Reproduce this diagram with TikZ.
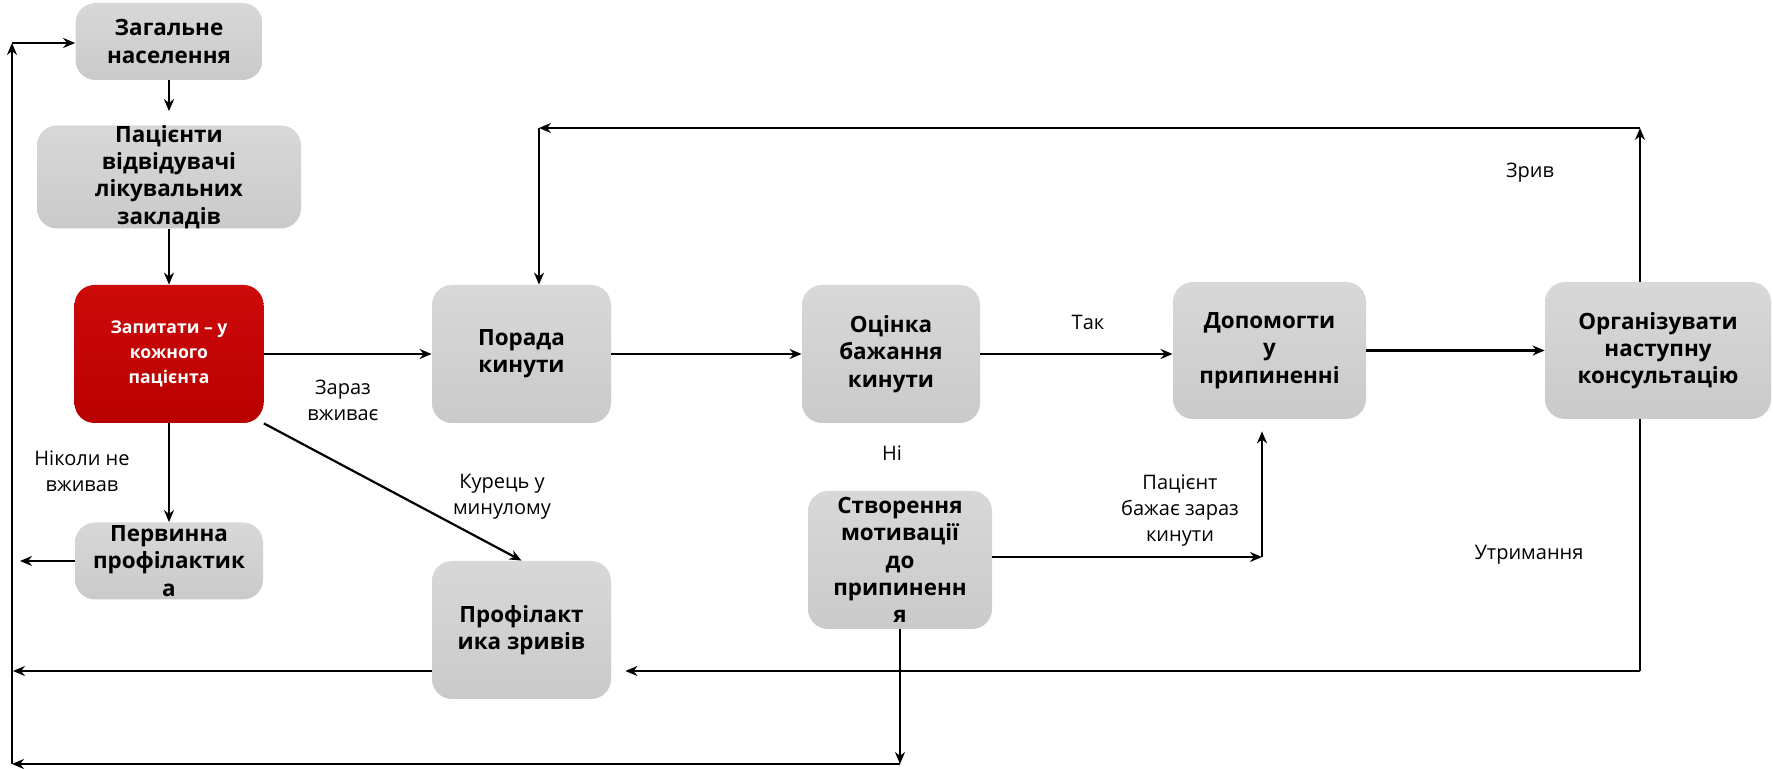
\documentclass[tikz,border=0pt]{standalone}
\usepackage{fontspec}
\setmainfont{Open Sans}
\usetikzlibrary{arrows.meta}
\definecolor{boxtop}{RGB}{216,216,216}
\definecolor{boxbot}{RGB}{202,202,202}
\definecolor{asktop}{RGB}{205,10,10}
\definecolor{askbot}{RGB}{185,0,0}

\begin{document}
\begin{tikzpicture}[x=0.5pt, y=-0.5pt,
    box/.style={rectangle, rounded corners=10pt, top color=boxtop, bottom color=boxbot, align=center, inner sep=0pt, font=\fontsize{11.2}{13.6}\selectfont\bfseries},
    redbox/.style={box, top color=asktop, bottom color=askbot, text=white, font=\fontsize{8.8}{12.5}\selectfont\bfseries},
    lbl/.style={align=center, inner sep=0pt, font=\fontsize{10}{13}\selectfont},
    arr/.style={line width=1.1pt, -{Stealth[length=6pt,width=5pt]}}]
    \useasboundingbox (0,0) rectangle (1773,769);

    \node[box, minimum width=93.5pt, minimum height=38.5pt] (gen) at (169,41.5) {Загальне\\населення};
    \node[box, minimum width=132pt, minimum height=49pt] (pat) at (169,177) {Пацієнти\\відвідувачі\\лікувальних\\закладів};
    \node[redbox, minimum width=94.5pt, minimum height=69pt] (ask) at (169,354) {Запитати – у\\кожного\\пацієнта};
    \node[box, minimum width=94pt, minimum height=38.5pt] (prim) at (169,561) {Первинна\\профілактик\\а};
    \node[box, minimum width=89.5pt, minimum height=69pt] (advice) at (521.5,354) {Порада\\кинути};
    \node[box, minimum width=89.5pt, minimum height=69pt] (relapse) at (521.5,630) {Профілакт\\ика зривів};
    \node[box, minimum width=89pt, minimum height=69pt] (assess) at (891,354) {Оцінка\\бажання\\кинути};
    \node[box, minimum width=92pt, minimum height=69pt] (motiv) at (900,560) {Створення\\мотивації\\до\\припиненн\\я};
    \node[box, minimum width=96.5pt, minimum height=68.5pt] (help) at (1269.5,350.5) {Допомогти\\у\\припиненні};
    \node[box, minimum width=113pt, minimum height=68.5pt] (follow) at (1658,350.5) {Організувати\\наступну\\консультацію};

    \coordinate (topL) at (12,43);
    \coordinate (botL) at (12,764);
    \coordinate (primL) at (20,561);
    \coordinate (relL) at (13,671);
    \coordinate (upR) at (1640,128);
    \coordinate (upL) at (539,128);
    \coordinate (retR) at (1640,671);
    \coordinate (motR) at (1262,557);

    \draw[arr, shorten >=7pt] (gen) -- (pat);
    \draw[arr] (pat) -- (ask);
    \draw[arr] (ask) -- (prim);
    \draw[arr] (ask) -- (advice);
    \draw[arr] (ask.south east) -- (relapse.north);
    \draw[arr] (advice) -- (assess);
    \draw[arr] (assess.east) -- (assess.east -| help.west);
    \draw[arr] (help) -- (follow);
    \draw[arr] (motiv.east |- motR) -- (motR);
    \draw[arr, shorten >=6pt] (motR) -- (motR |- help.south);

    \draw[arr] (upR |- follow.north) -- (upR);
    \draw[arr] (upR) -- (upL);
    \draw[arr] (upL) -- (upL |- advice.north);
    \draw[line width=1.1pt] (retR |- follow.south) -- (retR);
    \draw[arr, shorten >=7pt] (retR) -- (relapse.east |- retR);

    \draw[arr] (prim.west) -- (primL);
    \draw[arr] (relapse.west |- relL) -- (relL);
    \draw[arr] (motiv.south) -- (motiv.south |- botL);
    \draw[arr] (motiv.south |- botL) -- (botL);
    \draw[arr] (botL) -- (topL);
    \draw[arr] (topL) -- (gen.west |- topL);

    \node[lbl] (lNow) at (343,400) {Зараз\\вживає};
    \node[lbl] (lNever) at (82,471) {Ніколи не\\вживав};
    \node[lbl] (lPast) at (502,497) {Курець у\\минулому};
    \node[lbl] (lYes) at (1088,322) {Так};
    \node[lbl] (lNo) at (892,453) {Ні};
    \node[lbl] (lReady) at (1180,511) {Пацієнт\\бажає зараз\\кинути};
    \node[lbl] (lLapse) at (1530,173) {Зрив};
    \node[lbl] (lKeep) at (1529,555) {Утримання};
\end{tikzpicture}
\end{document}
